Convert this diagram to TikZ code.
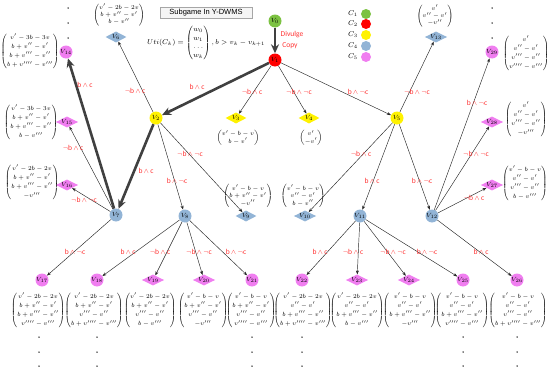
\documentclass[tikz,border=0pt]{standalone}
\usepackage{amsmath}
\usepackage{fontspec}
\newfontfamily\labfont{Carlito}
\newfontfamily\boxfont{Liberation Sans}
\usetikzlibrary{arrows.meta,shapes.geometric}
\definecolor{cgreen}{HTML}{7CC242}
\definecolor{cred}{HTML}{FF0000}
\definecolor{cyel}{HTML}{FFF200}
\definecolor{cblue}{HTML}{92B4D6}
\definecolor{cpink}{HTML}{F07EF0}
\definecolor{labred}{HTML}{FF3333}
\newcommand{\lA}{\,$\wedge$\,}
\newcommand{\lN}{$\neg$}
\begin{document}
\begin{tikzpicture}[x=1pt,y=-1pt,
 vc/.style={circle, inner sep=0pt, minimum size=13pt, font=\fontsize{6.5}{7}\selectfont},
 vd/.style={diamond, aspect=2, inner sep=0pt, minimum width=21pt, minimum height=11pt, font=\fontsize{6.5}{7}\selectfont},
 mat/.style={inner sep=0pt, font=\fontsize{6.4}{9.2}\selectfont},
 smat/.style={inner sep=0pt, font=\fontsize{6.3}{7.4}\selectfont},
 tmat/.style={inner sep=0pt, font=\fontsize{6.1}{6.6}\selectfont},
 lab/.style={text=labred, font=\labfont\fontsize{7.5}{8}\selectfont, inner sep=0pt},
 ed/.style={-{Stealth[length=4pt,width=3pt]}, line width=0.45pt, black!85},
 thk/.style={-{Stealth[length=9pt,width=8pt]}, line width=2.6pt, black!75},
 dt/.style={circle, fill=black, inner sep=0pt, minimum size=1.5pt},
 leg/.style={circle, inner sep=0pt, minimum size=10pt},
]
\useasboundingbox (0,0) rectangle (550,372);
% title and formula
\node[draw=gray!70, fill=gray!8, font=\boxfont\fontsize{7.5}{8}\selectfont, minimum width=92pt, minimum height=11pt, inner sep=1pt] (title) at (206,13) {Subgame In Y-DWMS};
\node[font=\fontsize{7}{8.5}\selectfont, inner sep=0pt] (uti) at (206,43) {$Uti(C_k)=\begin{pmatrix}w_0\\ w_1\\ \ldots\\ w_k\end{pmatrix},b>v_k-v_{k+1}$};
% legend
\foreach \i/\y/\c in {1/14/cgreen,2/24/cred,3/35/cyel,4/46/cblue,5/57/cpink}{
  \node[font=\fontsize{7}{7}\selectfont, inner sep=0pt] (lc\i) at (353,\y) {$C_{\i}$};
  \node[leg, fill=\c] (ld\i) at (366,\y) {};
}
% nodes
\node[vc, fill=cgreen] (v0) at (275,21) {$V_0$};
\node[vc, fill=cred] (v1) at (275,60) {$V_1$};
\node[vc, fill=cyel] (v2) at (156,118) {$V_2$};
\node[vd, fill=cyel] (v3) at (236,118) {$V_3$};
\node[vd, fill=cyel] (v4) at (309,118) {$V_4$};
\node[vc, fill=cyel] (v5) at (397,118) {$V_5$};
\node[vd, fill=cblue] (v6) at (116,37) {$V_6$};
\node[vc, fill=cblue] (v7) at (116,215) {$V_7$};
\node[vc, fill=cblue] (v8) at (185,216) {$V_8$};
\node[vd, fill=cblue] (v9) at (246,216) {$V_9$};
\node[vd, fill=cblue] (v10) at (305,216) {$V_{10}$};
\node[vc, fill=cblue] (v11) at (360,216) {$V_{11}$};
\node[vc, fill=cblue] (v12) at (432,216) {$V_{12}$};
\node[vd, fill=cblue] (v13) at (436,37) {$V_{13}$};
\node[vc, fill=cpink] (v14) at (66,52) {$V_{14}$};
\node[vd, fill=cpink] (v15) at (67,122) {$V_{15}$};
\node[vd, fill=cpink] (v16) at (67,185) {$V_{16}$};
\node[vc, fill=cpink] (v17) at (42,280) {$V_{17}$};
\node[vc, fill=cpink] (v18) at (97,280) {$V_{18}$};
\node[vd, fill=cpink] (v19) at (153,280) {$V_{19}$};
\node[vd, fill=cpink] (v20) at (204,280) {$V_{20}$};
\node[vc, fill=cpink] (v21) at (252,280) {$V_{21}$};
\node[vc, fill=cpink] (v22) at (302,280) {$V_{22}$};
\node[vd, fill=cpink] (v23) at (357,280) {$V_{23}$};
\node[vd, fill=cpink] (v24) at (409,280) {$V_{24}$};
\node[vc, fill=cpink] (v25) at (463,280) {$V_{25}$};
\node[vc, fill=cpink] (v26) at (517,280) {$V_{26}$};
\node[vd, fill=cpink] (v27) at (492,185) {$V_{27}$};
\node[vd, fill=cpink] (v28) at (492,122) {$V_{28}$};
\node[vc, fill=cpink] (v29) at (492,52) {$V_{29}$};
% matrices
\node[tmat] (m6) at (119,15) {$\begin{pmatrix}v'-2b-2v\\ b+v''-v'\\ b-v''\end{pmatrix}$};
\node[tmat] (m13) at (435,16) {$\begin{pmatrix}v'\\ v''-v'\\ -v''\end{pmatrix}$};
\node[smat] (m3) at (238,138) {$\begin{pmatrix}v'-b-v\\ b-v'\end{pmatrix}$};
\node[smat] (m4) at (311,138) {$\begin{pmatrix}v'\\ -v'\end{pmatrix}$};
\node[smat] (m9) at (248,196) {$\begin{pmatrix}v'-b-v\\ b+v''-v'\\ -v''\end{pmatrix}$};
\node[smat] (m10) at (303,196) {$\begin{pmatrix}v'-b-v\\ v''-v'\\ b-v''\end{pmatrix}$};
\node[mat] (m14) at (30,51) {$\begin{pmatrix}v'-3b-3v\\ b+v''-v'\\ b+v'''-v''\\ b+v''''-v'''\end{pmatrix}$};
\node[mat] (m15) at (31,122) {$\begin{pmatrix}v'-3b-3v\\ b+v''-v'\\ b+v'''-v''\\ b-v'''\end{pmatrix}$};
\node[mat] (m16) at (32,182) {$\begin{pmatrix}v'-2b-2v\\ b+v''-v'\\ b+v'''-v''\\ -v'''\end{pmatrix}$};
\node[mat] (m29) at (526,53) {$\begin{pmatrix}v'\\ v''-v'\\ v'''-v''\\ v''''-v'''\end{pmatrix}$};
\node[mat] (m28) at (526,119) {$\begin{pmatrix}v'\\ v''-v'\\ v'''-v''\\ -v'''\end{pmatrix}$};
\node[mat] (m27) at (525,183) {$\begin{pmatrix}v'-b-v\\ v''-v'\\ v'''-v''\\ b-v'''\end{pmatrix}$};
\node[mat] (m17) at (38,310) {$\begin{pmatrix}v'-2b-2v\\ b+v''-v'\\ b+v'''-v''\\ v''''-v'''\end{pmatrix}$};
\node[mat] (m18) at (94,310) {$\begin{pmatrix}v'-2b-2v\\ b+v''-v'\\ v'''-v''\\ b+v''''-v'''\end{pmatrix}$};
\node[mat] (m19) at (150,310) {$\begin{pmatrix}v'-2b-2v\\ b+v''-v'\\ v'''-v''\\ b-v'''\end{pmatrix}$};
\node[mat] (m20) at (203,310) {$\begin{pmatrix}v'-b-v\\ b+v''-v'\\ v'''-v''\\ -v'''\end{pmatrix}$};
\node[mat] (m21) at (251,310) {$\begin{pmatrix}v'-b-v\\ b+v''-v'\\ v'''-v''\\ v''''-v'''\end{pmatrix}$};
\node[mat] (m22) at (303,310) {$\begin{pmatrix}v'-2b-2v\\ v''-v'\\ b+v'''-v''\\ b+v''''-v'''\end{pmatrix}$};
\node[mat] (m23) at (357,310) {$\begin{pmatrix}v'-2b-2v\\ v''-v'\\ b+v'''-v''\\ b-v'''\end{pmatrix}$};
\node[mat] (m24) at (410,310) {$\begin{pmatrix}v'-b-v\\ v''-v'\\ b+v'''-v''\\ -v'''\end{pmatrix}$};
\node[mat] (m25) at (462,310) {$\begin{pmatrix}v'-b-v\\ v''-v'\\ b+v'''-v''\\ v''''-v'''\end{pmatrix}$};
\node[mat] (m26) at (518,310) {$\begin{pmatrix}v'-b-v\\ v''-v'\\ v'''-v''\\ b+v''''-v'''\end{pmatrix}$};
% dots
\foreach \x/\n in {68/a,492/b}{\foreach \y/\k in {8/1,23/2,38/3}{\node[dt] (td\n\k) at (\x,\y) {};}}
\foreach \x/\n in {39/a,97/b,252/c,302/d,463/e,517/f}{\foreach \y/\k in {337/1,352/2,366/3}{\node[dt] (bd\n\k) at (\x,\y) {};}}
% edges
\draw[thk] (v0) -- (v1);
\draw[thk] (v1) -- (v2);
\draw[thk] (v2) -- (v7);
\draw[thk] (v7) -- (v14);
\draw[ed] (v1) -- (v3);
\draw[ed] (v1) -- (v4);
\draw[ed] (v1) -- (v5);
\draw[ed] (v2) -- (v6);
\draw[ed] (v2) -- (v8);
\draw[ed] (v2) -- (v9);
\draw[ed] (v5) -- (v10);
\draw[ed] (v5) -- (v11);
\draw[ed] (v5) -- (v12);
\draw[ed] (v5) -- (v13);
\draw[ed] (v7) -- (v15);
\draw[ed] (v7) -- (v16);
\draw[ed] (v7) -- (v17);
\draw[ed] (v8) -- (v18);
\draw[ed] (v8) -- (v19);
\draw[ed] (v8) -- (v20);
\draw[ed] (v8) -- (v21);
\draw[ed] (v11) -- (v22);
\draw[ed] (v11) -- (v23);
\draw[ed] (v11) -- (v24);
\draw[ed] (v11) -- (v25);
\draw[ed] (v12) -- (v26);
\draw[ed] (v12) -- (v27);
\draw[ed] (v12) -- (v28);
\draw[ed] (v12) -- (v29);
% labels
\node[lab] (dv) at (292,35) {Divulge};
\node[lab] (cp) at (290,46) {Copy};
\node[lab] (l1) at (197,87) {b\lA c};
\node[lab] (l2) at (252,92) {\lN b\lA c};
\node[lab] (l3) at (299,92) {\lN b\lA\lN c};
\node[lab] (l4) at (358,92) {b\lA\lN c};
\node[lab] (l5) at (135,91) {\lN b\lA c};
\node[lab] (l6) at (146,171) {b\lA c};
\node[lab] (l7) at (177,181) {b\lA\lN c};
\node[lab] (l8) at (190,154) {\lN b\lA\lN c};
\node[lab] (l9) at (361,154) {\lN b\lA c};
\node[lab] (l10) at (372,181) {b\lA c};
\node[lab] (l11) at (422,181) {b\lA\lN c};
\node[lab] (l12) at (417,92) {\lN b\lA\lN c};
\node[lab] (l13) at (85,85) {b\lA c};
\node[lab] (l14) at (73,148) {\lN b\lA c};
\node[lab] (l15) at (84,200) {\lN b\lA\lN c};
\node[lab] (l16) at (75,252) {b\lA\lN c};
\node[lab] (l17) at (128,252) {b\lA c};
\node[lab] (l18) at (160,252) {\lN b\lA c};
\node[lab] (l19) at (199,252) {\lN b\lA\lN c};
\node[lab] (l20) at (236,252) {b\lA\lN c};
\node[lab] (l21) at (320,252) {b\lA c};
\node[lab] (l22) at (353,252) {\lN b\lA c};
\node[lab] (l23) at (393,252) {\lN b\lA\lN c};
\node[lab] (l24) at (427,252) {b\lA\lN c};
\node[lab] (l25) at (481,252) {b\lA c};
\node[lab] (l26) at (474,198) {\lN b\lA c};
\node[lab] (l27) at (476,154) {\lN b\lA\lN c};
\node[lab] (l28) at (477,103) {b\lA\lN c};
\end{tikzpicture}
\end{document}
